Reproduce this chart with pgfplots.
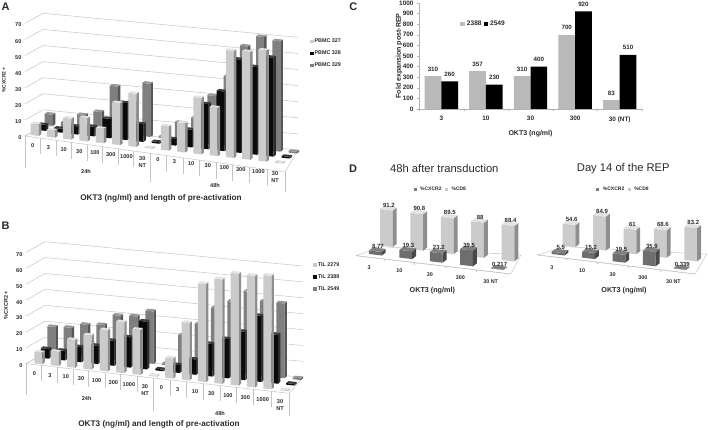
\documentclass[border=0pt]{standalone}
\usepackage{fontspec}
\setmainfont{Liberation Sans}
\usepackage{pgfplots}
\pgfplotsset{compat=1.18}

\definecolor{LF}{HTML}{CBCBCB}\definecolor{LS}{HTML}{8E8E8E}\definecolor{LT}{HTML}{E2E2E2}
\definecolor{KF}{HTML}{0A0A0A}\definecolor{KS}{HTML}{2C2C2C}\definecolor{KT}{HTML}{3A3A3A}
\definecolor{GF}{HTML}{7F7F7F}\definecolor{GS}{HTML}{565656}\definecolor{GT}{HTML}{969696}
\definecolor{CF}{HTML}{6E6E6E}\definecolor{CS}{HTML}{484848}\definecolor{CT}{HTML}{808080}
\definecolor{wall}{HTML}{C4C4C4}
\definecolor{ink}{HTML}{2A2A2A}

\newcommand{\fs}[1]{\fontsize{#1}{7}\selectfont}
\protected\def\NTl{30\\NT}
\protected\def\NTs{30 NT}

\tikzset{
  clab/.style={inner sep=0pt,align=center,font=\bfseries\fs{5.6},text=ink},
  vlab/.style={inner sep=0pt,yshift=3.3pt,font=\bfseries\fs{6},text=ink},
  dclab/.style={inner sep=0pt,yshift=-2.5pt,font=\bfseries\fs{5.4},text=ink},
}

% one 3D bar: x, y, value, width, depth, colour prefix
\newcommand{\onebar}[6]{%
  \pgfmathsetmacro\xb{#1+#4}\pgfmathsetmacro\yb{#2+#5}%
  \addplot3[forget plot,draw=none,fill=#6F] coordinates {(#1,#2,0)(\xb,#2,0)(\xb,#2,#3)(#1,#2,#3)};
  \addplot3[forget plot,draw=none,fill=#6S] coordinates {(\xb,#2,0)(\xb,\yb,0)(\xb,\yb,#3)(\xb,#2,#3)};
  \addplot3[forget plot,draw=none,fill=#6T] coordinates {(#1,#2,#3)(\xb,#2,#3)(\xb,\yb,#3)(#1,\yb,#3)};
}
% a row of bars: y, colour prefix, values
\newcommand{\barrow}[3]{%
  \foreach \val [count=\ii from 0] in {#3} {%
    \edef\tmp{\noexpand\onebar{\ii}{#1}{\val}{0.5}{0.35}{#2}}\tmp
  }%
}
% D panels: row of bars with value labels
\newcommand{\drow}[3]{%
  \foreach \val/\lab [count=\ii from 0] in {#3} {%
    \edef\tmp{\noexpand\onebar{\ii}{#1}{\val}{0.42}{0.36}{#2}}\tmp
    \pgfmathsetmacro\lx{\ii+0.23}\pgfmathsetmacro\ly{#1+0.18}%
    \edef\tmp{\noexpand\node[vlab] at (axis cs:\lx,\ly,\val) {\lab};}\tmp
  }%
}
% walls of panels A, B: fl, bl, br, fr corners
\newcommand{\walls}[8]{%
  \foreach \kk in {0,10,...,70} {%
    \edef\tmp{\noexpand\addplot3[forget plot,wall,line width=0.5pt] coordinates {(#1,#2,\kk)(#3,#4,\kk)(#5,#6,\kk)};}\tmp
  }%
  \addplot3[forget plot,wall,line width=0.5pt] coordinates {(#3,#4,0)(#1,#2,0)(#7,#8,0)(#5,#6,0)};
}
% dividers under the front edge: x0,y0,x1,y1, list t/length
\newcommand{\cells}[5]{%
  \foreach \tpos/\len in {#5} {%
    \pgfmathsetmacro\pa{#1+(#3-(#1))*\tpos}\pgfmathsetmacro\pb{#2+(#4-(#2))*\tpos}%
    \edef\tmp{\noexpand\addplot3[forget plot,wall,line width=0.5pt] coordinates {(\pa,\pb,0)(\pa,\pb,\len)};}\tmp
  }%
}
% category labels: x0,y0,x1,y1, z at t=0, dz/dt, list t/label/extra z
\newcommand{\catlabs}[7]{%
  \foreach \tpos/\lab/\ez in {#7} {%
    \pgfmathsetmacro\pa{#1+(#3-(#1))*\tpos}\pgfmathsetmacro\pb{#2+(#4-(#2))*\tpos}%
    \pgfmathsetmacro\pc{#5+(#6)*\tpos+\ez}%
    \edef\tmp{\noexpand\node[clab] at (axis cs:\pa,\pb,\pc) {\lab};}\tmp
  }%
}
\newcommand{\txt}[4][]{\node[inner sep=0pt,text=ink,#1,font=#2] at (#3) {#4};}

\pgfplotsset{
  wallaxis/.style={
    x={(16.26pt,-1.84pt)},y={(7pt,5pt)},z={(0pt,1.61pt)},
    zmin=0,zmax=70,ztick={0,10,...,70},xtick=\empty,ytick=\empty,
    clip=false,axis line style={draw=none},major tick length=0pt,
    tick label style={font=\bfseries\fs{5.6},text=ink},
    /pgf/number format/assume math mode=true,
    legend style={draw=none,fill=none,font=\bfseries\fs{5.4},text=ink,row sep=4.6pt,
      inner sep=0pt,nodes={inner sep=1pt}},
    legend cell align=left,
    legend image code/.code={\fill[##1] (0pt,-1.7pt) rectangle (4pt,1.7pt);},
  },
  daxis/.style={
    x={(30.4pt,-3.6pt)},y={(11pt,8.5pt)},z={(0pt,0.4pt)},
    xmin=-0.4,xmax=4.9,ymin=-0.35,ymax=1.9,zmin=0,zmax=95,
    hide axis,clip=false,
    legend style={draw=none,fill=none,font=\bfseries\fs{5},text=ink,inner sep=0pt,
      nodes={inner sep=1pt},column sep=2.5pt},
    legend columns=2,
    legend image code/.code={\fill[##1] (0pt,-1.5pt) rectangle (3pt,1.5pt);},
  },
}

\begin{document}
\begin{tikzpicture}[x=1pt,y=1pt]
\useasboundingbox (0,0) rectangle (708,430);

% ---------- A
\begin{axis}[wallaxis,at={(30.7pt,295pt)},anchor=origin,
  xmin=-0.228,xmax=16.25,ymin=-0.284,ymax=2.63,
  legend style={at={(0.986,0.816)},anchor=north west}]
\addlegendimage{fill=LF,draw=none}\addlegendentry{PBMC 327}
\addlegendimage{fill=KF,draw=none}\addlegendentry{PBMC 328}
\addlegendimage{fill=GF,draw=none}\addlegendentry{PBMC 329}
\walls{-0.228}{-0.284}{-0.016}{1.79}{15.3}{2.63}{16.25}{-1.42}
\barrow{2}{G}{7,3,9,12,29,20,33,1,11,15,30,43,63,70,68.5,1}
\barrow{1}{K}{3.7,2.5,5,6,12,23,11,1,4,11,28,37,58,54.5,61.5,1}
\barrow{0}{L}{7.2,4.5,13,14.5,9,26,33,0.5,15,18,35,30,66.5,67,69,0.5}
\cells{-0.228}{-0.284}{16.25}{-1.42}{0/-20,.0587/-10,.1187/-10,.1786/-10,.238/-10,.298/-10,.358/-10,.417/-10,.481/-18,.543/-10,.607/-10,.671/-10,.735/-10,.799/-10,.863/-10,.93/-10,1/-12.5}
\catlabs{-0.228}{-0.284}{16.25}{-1.42}{-5.6}{4.15}{.030/0/0,.090/3/0,.149/10/0,.209/30/0,.269/100/0,.330/300/0,.390/1000/0,.451/\NTl/-2.1,.511/0/0,.575/3/0,.639/10/0,.703/30/0,.767/100/0,.830/300/0,.898/1000/0,.962/\NTl/-2.1}
\end{axis}

% ---------- B
\begin{axis}[wallaxis,x={(16.36pt,-1.79pt)},y={(6.5pt,5.5pt)},z={(0pt,1.59pt)},
  at={(34.3pt,66.7pt)},anchor=origin,
  xmin=-0.424,xmax=15.72,ymin=-0.21,ymax=2.48,
  legend style={at={(1.018,0.847)},anchor=north west}]
\addlegendimage{fill=LF,draw=none}\addlegendentry{TIL 2279}
\addlegendimage{fill=KF,draw=none}\addlegendentry{TIL 2388}
\addlegendimage{fill=GF,draw=none}\addlegendentry{TIL 2549}
\walls{-0.424}{-0.21}{-0.08}{1.85}{15.44}{2.48}{15.72}{-0.34}
\barrow{2}{G}{16.4,17,20,21,28,28.7,33,1,20,28,39.4,44.6,52,47,47,1}
\barrow{1}{K}{6,6,9.5,11.5,15.7,19,30,1,5,9.6,20.5,24.7,30.4,41.5,30.8,1}
\barrow{0}{L}{7.3,8.8,17.4,21.4,25.8,31.9,28.3,0.5,12.6,36,61.6,65.6,70.4,70.2,71.3,0.5}
\cells{-0.424}{-0.21}{15.72}{-0.34}{0/-19.5,.0595/-10,.119/-10,.18/-10,.237/-10,.3/-10,.359/-10,.422/-10,.484/-21,.547/-10,.61/-10,.673/-10,.737/-10,.8/-10,.863/-10,.933/-10,1/-14.5}
\catlabs{-0.424}{-0.21}{15.72}{-0.34}{-5.6}{0}{.032/0/0,.091/3/0,.151/10/0,.209/30/0,.268/100/0,.332/300/0,.391/1000/0,.452/\NTl/-2.5,.514/0/0,.576/3/0,.642/10/0,.704/30/0,.767/100/0,.833/300/0,.899/1000/0,.965/\NTl/-2.5}
\end{axis}

% ---------- C
\begin{axis}[at={(419pt,321pt)},anchor=south west,scale only axis,width=223pt,height=106pt,
  ybar=0pt,bar width=16.7pt,xmin=-0.5,xmax=4.5,ymin=0,ymax=1000,ytick={0,100,...,1000},
  xtick={0,...,4},xticklabels={3,10,30,300,30 (NT)},
  minor xtick={-0.5,0.5,...,4.5},
  axis x line*=bottom,axis y line*=left,axis line style={draw=gray!60,-},
  tick align=outside,major tick length=2pt,minor tick length=2pt,
  x tick style={draw=none},minor x tick style={draw=gray!60},y tick style={draw=gray!60},
  tick label style={font=\bfseries\fs{6.4},text=ink},
  xticklabel style={yshift=-2pt},
  /pgf/number format/assume math mode=true,/pgf/number format/1000 sep={},
  xlabel={OKT3 (ng/ml)},ylabel={Fold expansion post-REP},
  label style={font=\bfseries\fs{7},text=ink},
  xlabel style={yshift=-1pt},ylabel style={yshift=-10pt},
  nodes near coords,nodes near coords style={font=\bfseries\fs{6.2},text=ink,yshift=1.5pt},
  legend columns=2,legend style={at={(0.185,0.80)},anchor=west,draw=none,fill=none,
    font=\bfseries\fs{6.6},text=ink,inner sep=0pt,nodes={inner sep=1pt},column sep=1pt},
  legend image code/.code={\fill[#1] (0pt,-2pt) rectangle (4.5pt,2pt);}]
\addplot[fill=gray!55,draw=none] coordinates {(0,310)(1,357)(2,310)(3,700)(4,83)};
\addplot[fill=black,draw=none] coordinates {(0,260)(1,230)(2,400)(3,920)(4,510)};
\legend{2388,2549}
\end{axis}

% ---------- D left
\begin{axis}[daxis,at={(369pt,176pt)},anchor=origin,legend style={at={(0.47,1.115)},anchor=center}]
\addlegendimage{fill=GF,draw=none}\addlegendentry{\%CXCR2}
\addlegendimage{fill=LF,draw=none}\addlegendentry{\%CD8}
\addplot3[forget plot,wall,line width=0.5pt] coordinates {(-0.308,-0.33,0)(4.78,-0.33,0)(4.37,1.73,0)(0.12,0.91,0)(-0.308,-0.33,0)};
\drow{1}{L}{91.2/91.2,90.8/90.8,89.5/89.5,88/88,88.4/88.4}
\addplot3[forget plot,wall,line width=0.5pt] coordinates {(-0.308,-0.33,0)(4.78,-0.33,0)};
\drow{0}{C}{8.77/8.77,19.3/19.3,23.2/23.2,39.5/39.5,0.217/0.217}
\cells{-0.308}{-0.33}{4.78}{-0.33}{.183/-5,.377/-5,.575/-5,.78/-5}
\foreach \ii/\lab in {0/3,1/10,2/30,3/300,4/\NTs} {%
  \pgfmathsetmacro\pa{\ii+0.4}%
  \edef\tmp{\noexpand\node[dclab] at (axis cs:\pa,-1.1,0) {\lab};}\tmp
}
\end{axis}

% ---------- D right
\begin{axis}[daxis,at={(551.7pt,176pt)},anchor=origin,legend style={at={(0.47,1.115)},anchor=center}]
\addlegendimage{fill=GF,draw=none}\addlegendentry{\%CXCR2}
\addlegendimage{fill=LF,draw=none}\addlegendentry{\%CD8}
\addplot3[forget plot,wall,line width=0.5pt] coordinates {(-0.37,-0.27,0)(4.83,-0.31,0)(4.43,1.84,0)(0.11,0.91,0)(-0.37,-0.27,0)};
\drow{1}{L}{54.6/54.6,84.9/84.9,61/61,68.6/68.6,83.2/83.2}
\addplot3[forget plot,wall,line width=0.5pt] coordinates {(-0.37,-0.27,0)(4.83,-0.31,0)};
\drow{0}{C}{5.5/5.5,15.2/15.2,19.5/19.5,35.9/35.9,0.339/0.339}
\cells{-0.37}{-0.27}{4.83}{-0.31}{.183/-5,.377/-5,.575/-5,.78/-5}
\foreach \ii/\lab in {0/3,1/10,2/30,3/300,4/\NTs} {%
  \pgfmathsetmacro\pa{\ii+0.4}%
  \edef\tmp{\noexpand\node[dclab] at (axis cs:\pa,-1.1,0) {\lab};}\tmp
}
\end{axis}

% ---------- texts
\txt{\bfseries\fs{11}}{5.7,423}{A}
\txt{\bfseries\fs{11}}{5.7,204}{B}
\txt{\bfseries\fs{11}}{353.3,423.3}{C}
\txt{\bfseries\fs{11}}{353,261}{D}
\txt[rotate=90]{\bfseries\fs{5}}{4,350}{\%CXCR2 +}
\txt[rotate=90]{\bfseries\fs{5.5}}{6,125}{\%CXCR2 +}
\txt{\bfseries\fs{5.6}}{86,258.3}{24h}
\txt{\bfseries\fs{5.6}}{215,244}{48h}
\txt{\bfseries\fs{5.6}}{86.7,31.3}{24h}
\txt{\bfseries\fs{5.6}}{220,17}{48h}
\txt{\bfseries\fs{8.2}}{161,231.3}{OKT3 (ng/ml) and length of  pre-activation}
\txt{\bfseries\fs{8.2}}{159,6}{OKT3 (ng/ml) and length of  pre-activation}
\txt{\fs{11.2}}{444.3,261.3}{48h after transduction}
\txt{\fs{11.2}}{623.3,261.3}{Day 14 of the REP}
\txt{\bfseries\fs{7.2}}{432.3,139.3}{OKT3 (ng/ml)}
\txt{\bfseries\fs{7.2}}{624,139.3}{OKT3 (ng/ml)}
\end{tikzpicture}
\end{document}
